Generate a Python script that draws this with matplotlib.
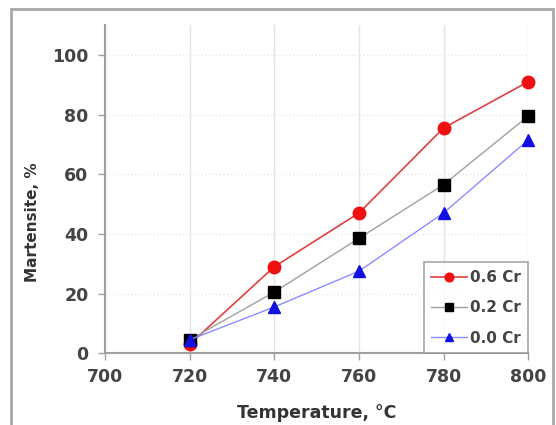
import matplotlib.pyplot as plt
from matplotlib.patches import Rectangle

temps = [720, 740, 760, 780, 800]
cr06 = [3, 29, 47, 75.5, 91]
cr02 = [4.5, 20.5, 38.5, 56.5, 79.5]
cr00 = [4.5, 15.5, 27.5, 47, 71.5]

plt.rcParams['font.family'] = ['DejaVu Sans']

fig = plt.figure(figsize=(5.56, 4.25), dpi=100)
ax = fig.add_axes([0.189, 0.169, 0.761, 0.772])

# outer gray frame
fig.patches.append(Rectangle((11 / 556, -0.05), 542 / 556, 1.05 - 9 / 425,
                             transform=fig.transFigure, fill=False,
                             edgecolor='#a8a8a8', linewidth=2))

ax.plot(temps, cr06, color='#e04040', lw=1.2, marker='o', ms=9,
        mfc='#ee1010', mec='#ee1010', label='0.6 Cr', zorder=3, clip_on=False)
ax.plot(temps, cr02, color='#a0a0a0', lw=1, marker='s', ms=9,
        mfc='black', mec='black', label='0.2 Cr', zorder=4, clip_on=False)
ax.plot(temps, cr00, color='#8c8cff', lw=1, marker='^', ms=9,
        mfc='#1010e0', mec='#1010e0', label='0.0 Cr', zorder=5, clip_on=False)

ax.set_xlim(700, 800)
ax.set_ylim(0, 110)
ax.set_xticks([700, 720, 740, 760, 780, 800])
ax.set_yticks([0, 20, 40, 60, 80, 100])

ax.grid(axis='x', color='#e4e4e4', lw=1)
ax.grid(axis='y', color='#e8e8e8', lw=1, ls=':')
ax.set_axisbelow(True)

for s in ['top', 'right']:
    ax.spines[s].set_visible(False)
for s in ['left', 'bottom']:
    ax.spines[s].set_color('#a0a0a0')
    ax.spines[s].set_linewidth(1.5)

ax.tick_params(colors='#a0a0a0', labelcolor='#444444', labelsize=12.5,
               length=5, width=1)
ax.tick_params(axis='y', pad=7)
ax.tick_params(axis='x', pad=6)
for lab in ax.get_xticklabels() + ax.get_yticklabels():
    lab.set_fontweight('bold')

ax.set_xlabel('Temperature, °C', fontsize=12.5, fontweight='bold',
              color='#333333')
ax.xaxis.set_label_coords(0.5, -0.155)
ax.set_ylabel('Martensite, %', fontsize=11, fontweight='bold',
              color='#333333')
ax.yaxis.set_label_coords(-0.155, 0.40)

leg = ax.legend(loc='lower right', bbox_to_anchor=(1.0, 0.0),
                frameon=True, fancybox=False, edgecolor='#909090',
                borderaxespad=0, borderpad=0.5, handlelength=2.3,
                handletextpad=0.2, labelspacing=1.0, markerscale=0.7,
                prop={'weight': 'bold', 'size': 11})
leg.get_frame().set_linewidth(1.2)
leg.set_zorder(6)
for t in leg.get_texts():
    t.set_color('#444444')

fig.savefig('out.png', dpi=100)
